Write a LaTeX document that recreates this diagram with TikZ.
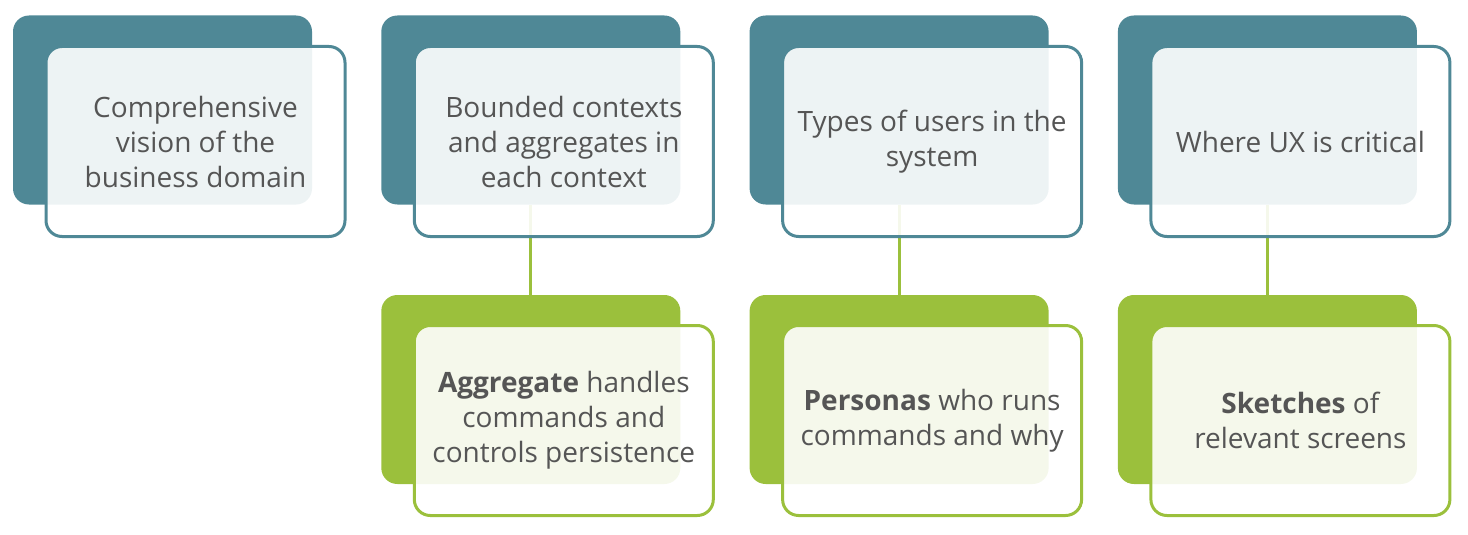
\documentclass[tikz,border=0pt]{standalone}
\usepackage{fontspec}
\setmainfont{Open Sans}
\definecolor{teal}{HTML}{4F8896}
\definecolor{leaf}{HTML}{9BC03C}
\definecolor{txt}{HTML}{555555}
\begin{document}
\begin{tikzpicture}[x=1pt,y=-1pt,
  back/.style={draw=none,fill=#1,rounded corners=16pt,minimum width=299pt,minimum height=189pt,inner sep=0pt},
  front/.style={draw=#1,line width=3pt,fill=white,fill opacity=0.9,draw opacity=1,text opacity=1,rounded corners=16pt,minimum width=299pt,minimum height=190pt,inner sep=0pt,
     text=txt,font=\fontsize{28}{35}\selectfont,align=center},
  link/.style={draw=leaf,line width=3pt}]
\useasboundingbox (0,0) rectangle (1468,535);
% back boxes
\node[back=teal] (b1) at (162.5,110) {};
\node[back=teal] (b2) at (530.8,110) {};
\node[back=teal] (b3) at (899.1,110) {};
\node[back=teal] (b4) at (1267.4,110) {};
\node[back=leaf] (g2) at (530.8,389.5) {};
\node[back=leaf] (g3) at (899.1,389.5) {};
\node[back=leaf] (g4) at (1267.4,389.5) {};
% connectors
\draw[link] (b2.south) -- (g2.north);
\draw[link] (b3.south) -- (g3.north);
\draw[link] (b4.south) -- (g4.north);
% front boxes
\node[front=teal] (f1) at (195.5,141.5) {Comprehensive\\vision of the\\business domain};
\node[front=teal] (f2) at (563.8,141.5) {Bounded contexts\\and aggregates in\\each context};
\node[front=teal] (f3) at (932.1,141.5) {Types of users in the\\system};
\node[front=teal] (f4) at (1300.4,141.5) {Where UX is critical};
\node[front=leaf] (h2) at (563.8,420.5) {\textbf{Aggregate} handles\\commands and\\controls persistence};
\node[front=leaf] (h3) at (932.1,420.5) {\textbf{Personas} who runs\\commands and why};
\node[front=leaf] (h4) at (1300.4,420.5) {\textbf{Sketches} of\\relevant screens};
\end{tikzpicture}
\end{document}
